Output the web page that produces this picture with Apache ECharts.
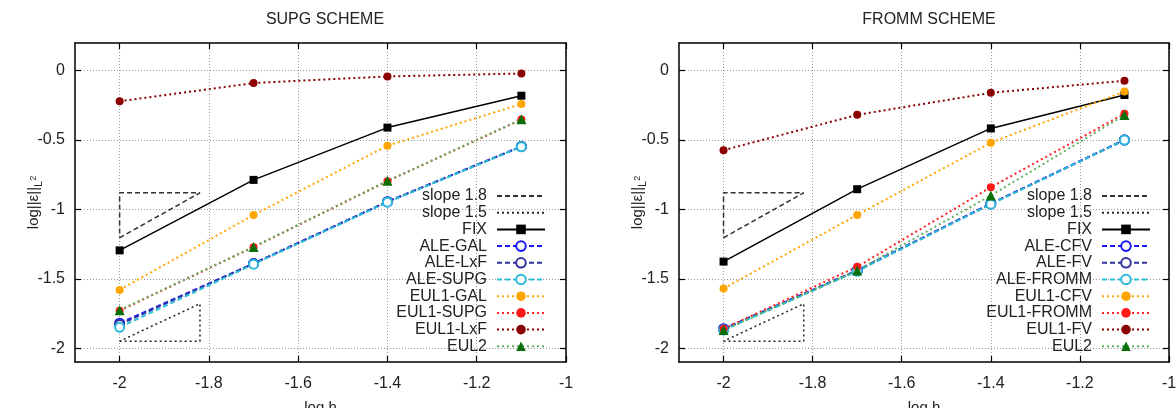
<!DOCTYPE html>
<html><head><meta charset="utf-8">
<script src="https://cdn.jsdelivr.net/npm/echarts@6/dist/echarts.min.js"></script>
<style>html,body{margin:0;padding:0;background:#fff}#c{width:1176px;height:408px}</style>
</head><body><div id="c"></div>
<script>
// ---- data ----
const logH = [-2, -1.7, -1.4, -1.1];
const xTicks = [-2, -1.8, -1.6, -1.4, -1.2, -1];
const yTicks = [-2, -1.5, -1, -0.5, 0];
const slope18Tri = [[-2, -1.204], [-1.82, -0.88], [-2, -0.88], [-2, -1.204]];
const slope15Tri = [[-2, -1.95], [-1.82, -1.95], [-1.82, -1.68], [-2, -1.95]];

const supgNames = ['FIX', 'ALE-GAL', 'ALE-LxF', 'ALE-SUPG', 'EUL1-GAL', 'EUL1-SUPG', 'EUL1-LxF', 'EUL2'];
const supgFIX = [-1.295, -0.787, -0.41, -0.18];
const supgALEGAL = [-1.82, -1.39, -0.944, -0.546];
const supgALELxF = [-1.83, -1.39, -0.944, -0.546];
const supgALESUPG = [-1.85, -1.395, -0.948, -0.548];
const supgEUL1GAL = [-1.58, -1.04, -0.54, -0.24];
const supgEUL1SUPG = [-1.73, -1.272, -0.796, -0.352];
const supgEUL1LxF = [-0.22, -0.089, -0.041, -0.02];
const supgEUL2 = [-1.726, -1.27, -0.794, -0.35];

const frommNames = ['FIX', 'ALE-CFV', 'ALE-FV', 'ALE-FROMM', 'EUL1-CFV', 'EUL1-FROMM', 'EUL1-FV', 'EUL2'];
const frommFIX = [-1.376, -0.854, -0.416, -0.175];
const frommALECFV = [-1.86, -1.44, -0.958, -0.498];
const frommALEFV = [-1.865, -1.44, -0.96, -0.5];
const frommALEFROMM = [-1.87, -1.445, -0.962, -0.5];
const frommEUL1CFV = [-1.57, -1.04, -0.519, -0.15];
const frommEUL1FROMM = [-1.86, -1.413, -0.84, -0.31];
const frommEUL1FV = [-0.573, -0.318, -0.159, -0.072];
const frommEUL2 = [-1.87, -1.44, -0.90, -0.32];

// ---- styles ----
const FONT = 'Liberation Sans, Arial, sans-serif';
const TXT = '#222';
const DASH = [5, 3];
const DOT = [2, 3];
const styles = [
  {line: '#000', item: '#000', type: 'solid', symbol: 'rect', size: 8},
  {line: '#1a1aff', item: '#1a1aff', type: DASH, symbol: 'emptyCircle', size: 9},
  {line: '#3333a0', item: '#3333a0', type: DASH, symbol: 'emptyCircle', size: 9},
  {line: '#2bc0d8', item: '#2bb8dc', type: DASH, symbol: 'emptyCircle', size: 9},
  {line: '#ffa500', item: '#ffa500', type: DOT, symbol: 'circle', size: 8},
  {line: '#ff2020', item: '#ff1a1a', type: DOT, symbol: 'circle', size: 8},
  {line: '#8b0000', item: '#8b0000', type: DOT, symbol: 'circle', size: 8},
  {line: '#62b062', item: '#0a6e0a', type: DOT, symbol: 'triangle', size: 10}
];

function panelSeries(xi, yi, names, arrays) {
  const out = [];
  out.push({name: 'slope 1.8', type: 'line', xAxisIndex: xi, yAxisIndex: yi, data: slope18Tri,
    symbol: 'none', lineStyle: {color: '#333', width: 1.5, type: DASH}, itemStyle: {color: '#333'}, animation: false});
  out.push({name: 'slope 1.5', type: 'line', xAxisIndex: xi, yAxisIndex: yi, data: slope15Tri,
    symbol: 'none', lineStyle: {color: '#222', width: 1.5, type: DOT}, itemStyle: {color: '#222'}, animation: false});
  names.forEach((n, i) => {
    const s = styles[i];
    out.push({name: n, type: 'line', xAxisIndex: xi, yAxisIndex: yi,
      data: logH.map((x, k) => [x, arrays[i][k]]),
      symbol: s.symbol, symbolSize: s.size,
      lineStyle: {color: s.line, width: i === 0 ? 1.5 : 2, type: s.type},
      itemStyle: {color: s.item, borderColor: s.item, borderWidth: s.symbol === 'emptyCircle' ? 2 : 0},
      animation: false});
  });
  return out;
}

function xAx(gi, pos, main) {
  return {type: 'value', gridIndex: gi, position: pos, min: -2.1, max: -1,
    name: main ? 'log h' : '', nameLocation: 'middle', nameGap: 38, nameMoveOverlap: false,
    nameTextStyle: {fontSize: 15, color: TXT, fontFamily: FONT},
    axisLine: {show: true, onZero: false, lineStyle: {color: '#000', width: 1.5}},
    axisTick: {show: true, inside: true, length: 6, customValues: xTicks, lineStyle: {color: '#000', width: 1.2}},
    axisLabel: {show: main, customValues: xTicks, margin: 14, fontSize: 16, color: TXT, fontFamily: FONT},
    splitLine: {show: main, lineStyle: {color: '#999', width: 1, type: [1, 2]}}};
}
function yAx(gi, pos, main) {
  return {type: 'value', gridIndex: gi, position: pos, min: -2.1, max: 0.2,
    name: main ? '{a|log||ε||}{b|L}{c|2}' : '', nameLocation: 'middle', nameGap: 31, nameMoveOverlap: false,
    nameTextStyle: {color: TXT, fontFamily: FONT, rich: {
      a: {fontSize: 15, color: TXT, fontFamily: FONT, lineHeight: 20, verticalAlign: 'middle'},
      b: {fontSize: 11, color: TXT, fontFamily: FONT, lineHeight: 20, verticalAlign: 'bottom'},
      c: {fontSize: 9, color: TXT, fontFamily: FONT, lineHeight: 20, verticalAlign: 'middle'}}},
    axisLine: {show: true, onZero: false, lineStyle: {color: '#000', width: 1.5}},
    axisTick: {show: true, inside: true, length: 6, customValues: yTicks, lineStyle: {color: '#000', width: 1.2}},
    axisLabel: {show: main, customValues: yTicks, margin: 10, fontSize: 16, color: TXT, fontFamily: FONT},
    splitLine: {show: main, lineStyle: {color: '#999', width: 1, type: [1, 2]}}};
}
function legend(right, names) {
  const noSym = {opacity: 0};
  return {orient: 'vertical', right: right, top: 188, align: 'right', padding: 0,
    itemWidth: 48, itemHeight: 12, itemGap: 0.7, selectedMode: false,
    data: [{name: 'slope 1.8', itemStyle: noSym}, {name: 'slope 1.5', itemStyle: noSym}].concat(names),
    textStyle: {fontSize: 16, lineHeight: 16, color: TXT, fontFamily: FONT, padding: [0, 5, 0, 0]}};
}

const chart = echarts.init(document.getElementById('c'), null, {renderer: 'canvas'});
chart.setOption({
  backgroundColor: '#fff',
  animation: false,
  title: [
    {text: 'SUPG SCHEME', left: 320, top: 7, textAlign: 'center', textStyle: {fontSize: 16, fontWeight: 'normal', color: TXT, fontFamily: FONT}},
    {text: 'FROMM SCHEME', left: 924, top: 7, textAlign: 'center', textStyle: {fontSize: 16, fontWeight: 'normal', color: TXT, fontFamily: FONT}}
  ],
  grid: [
    {left: 75, top: 43, width: 491, height: 319, containLabel: false, outerBoundsMode: 'none'},
    {left: 679, top: 43, width: 490, height: 319, containLabel: false, outerBoundsMode: 'none'}
  ],
  xAxis: [xAx(0, 'bottom', true), xAx(0, 'top', false), xAx(1, 'bottom', true), xAx(1, 'top', false)],
  yAxis: [yAx(0, 'left', true), yAx(0, 'right', false), yAx(1, 'left', true), yAx(1, 'right', false)],
  legend: [legend(630, supgNames), legend(25, frommNames)],
  series: panelSeries(0, 0, supgNames, [supgFIX, supgALEGAL, supgALELxF, supgALESUPG, supgEUL1GAL, supgEUL1SUPG, supgEUL1LxF, supgEUL2])
    .concat(panelSeries(2, 2, frommNames, [frommFIX, frommALECFV, frommALEFV, frommALEFROMM, frommEUL1CFV, frommEUL1FROMM, frommEUL1FV, frommEUL2]))
});
</script></body></html>
